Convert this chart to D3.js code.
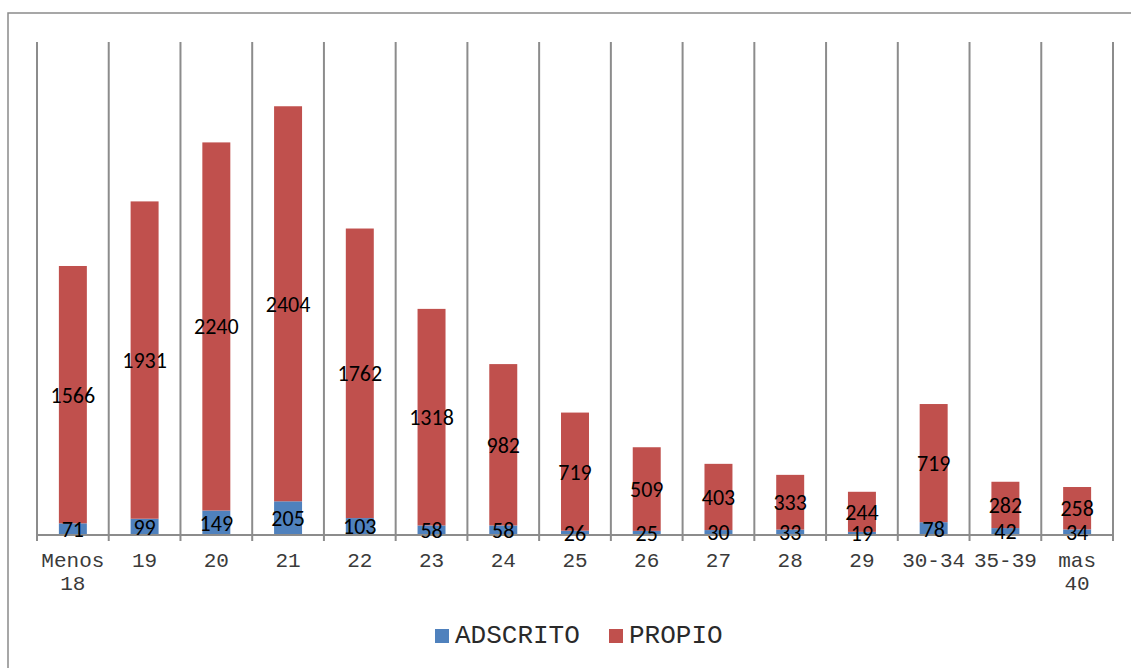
<!DOCTYPE html>
<html><head><meta charset="utf-8">
<script src="https://cdn.jsdelivr.net/npm/d3@7"></script>
<style>body{margin:0;background:#fff}svg{display:block}</style>
</head><body>
<svg id="c" width="1131" height="668"></svg>
<script>
const categories = [["Menos","18"],["19"],["20"],["21"],["22"],["23"],["24"],["25"],["26"],["27"],["28"],["29"],["30-34"],["35-39"],["mas","40"]];
const adscrito = [71,99,149,205,103,58,58,26,25,30,33,19,78,42,34];
const propio = [1566,1931,2240,2404,1762,1318,982,719,509,403,333,244,719,282,258];
const seriesNames = ["ADSCRITO","PROPIO"];
const colors = ["#4F81BD","#C0504D"];

(function(){
const svg = d3.select("#c");
// outer border
svg.append("rect").attr("x",8).attr("y",13).attr("width",1140).attr("height",700)
  .attr("fill","none").attr("stroke","#8a8a8a").attr("stroke-width",1.5);

const pl=37, pr=1113, pt=42, base=535;
const x = d3.scaleBand().domain(d3.range(categories.length)).range([pl,pr]).paddingInner(0.61).paddingOuter(0.305);
const y = d3.scaleLinear().domain([0,3000]).range([base,pt]);
const step = x.step();

// vertical gridlines at boundaries
const bounds = d3.range(categories.length+1).map(i=>pl+i*step);
svg.append("g").selectAll("line").data(bounds).join("line")
  .attr("x1",d=>d).attr("x2",d=>d).attr("y1",pt).attr("y2",base+6)
  .attr("stroke","#8c8c8c").attr("stroke-width",2);

const data = categories.map((c,i)=>({i,a:adscrito[i],p:propio[i]}));
const g = svg.append("g");
data.forEach(d=>{
  const x0 = x(d.i), w = x.bandwidth();
  g.append("rect").attr("x",x0).attr("width",w).attr("y",y(d.a)).attr("height",y(0)-y(d.a)).attr("fill",colors[0]);
  g.append("rect").attr("x",x0).attr("width",w).attr("y",y(d.a+d.p)).attr("height",y(d.a)-y(d.a+d.p)).attr("fill",colors[1]);
});
// baseline
svg.append("line").attr("x1",pl).attr("x2",pr).attr("y1",base).attr("y2",base).attr("stroke","#8c8c8c").attr("stroke-width",2);

// data labels
const lab = svg.append("g").attr("font-family","Carlito, Lato, 'Open Sans', sans-serif").attr("font-size",22).attr("fill","#000").attr("text-anchor","middle");
data.forEach(d=>{
  const cx = x(d.i)+x.bandwidth()/2;
  lab.append("text").attr("x",cx).attr("y",(y(0)+y(d.a))/2).attr("dy","0.36em").text(d.a);
  lab.append("text").attr("x",cx).attr("y",(y(d.a)+y(d.a+d.p))/2).attr("dy","0.36em").text(d.p);
});

// category labels
const cl = svg.append("g").attr("font-family","'Liberation Mono', 'DejaVu Sans Mono', monospace").attr("font-size",21).attr("fill","#3a3a3a").attr("text-anchor","middle");
categories.forEach((c,i)=>{
  const t = cl.append("text").attr("x",x(i)+x.bandwidth()/2).attr("y",567);
  c.forEach((s,k)=>t.append("tspan").attr("x",x(i)+x.bandwidth()/2).attr("dy",k?23:0).text(s));
});

// legend
const leg = svg.append("g").attr("font-family","'Liberation Mono', monospace").attr("font-size",26).attr("fill","#2a2a2a");
const lx = [435,609];
seriesNames.forEach((n,k)=>{
  leg.append("rect").attr("x",lx[k]).attr("y",629).attr("width",14).attr("height",14).attr("fill",colors[k]);
  leg.append("text").attr("x",lx[k]+20).attr("y",643).text(n);
});
})();
</script>
</body></html>
